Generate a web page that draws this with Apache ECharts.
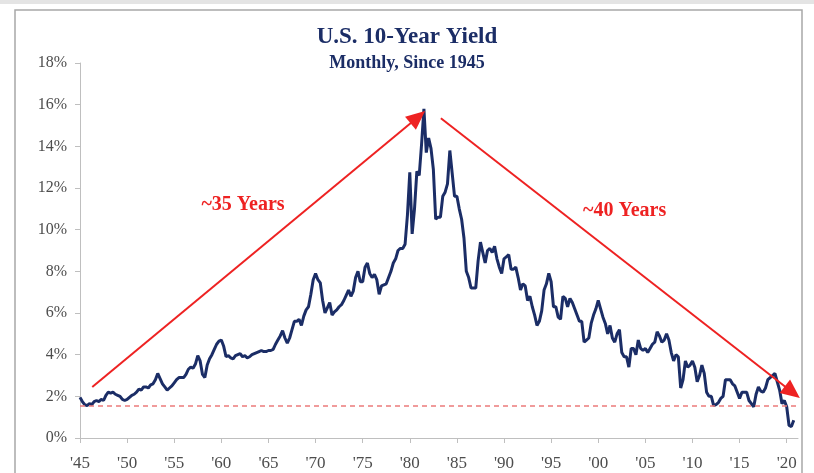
<!DOCTYPE html>
<html>
<head>
<meta charset="utf-8">
<style>
  html, body { margin: 0; padding: 0; background: #ffffff; }
  #chart { width: 814px; height: 473px; }
</style>
<script src="https://cdn.jsdelivr.net/npm/echarts@6/dist/echarts.min.js"></script>
</head>
<body>
<div id="chart"></div>
<script>
// U.S. 10-year Treasury yield (%), one value per quarter starting Q1 1945
const startYear = 1945;
const quarterlyYield = [
  1.95, 1.75, 1.60, 1.55,   // 1945
  1.65, 1.60, 1.75, 1.80,   // 1946
  1.75, 1.85, 1.80, 2.05,   // 1947
  2.20, 2.15, 2.20, 2.10,   // 1948
  2.05, 2.00, 1.85, 1.80,   // 1949
  1.85, 1.95, 2.05, 2.10,   // 1950
  2.20, 2.35, 2.30, 2.45,   // 1951
  2.45, 2.40, 2.55, 2.60,   // 1952
  2.80, 3.10, 2.85, 2.60,   // 1953
  2.45, 2.30, 2.40, 2.50,   // 1954
  2.65, 2.80, 2.90, 2.90,   // 1955
  2.90, 3.05, 3.30, 3.40,   // 1956
  3.35, 3.55, 3.95, 3.70,   // 1957
  3.05, 2.90, 3.50, 3.80,   // 1958
  4.00, 4.25, 4.50, 4.65,   // 1959
  4.70, 4.40, 3.90, 3.95,   // 1960
  3.85, 3.80, 3.95, 4.00,   // 1961
  4.05, 3.90, 3.95, 3.85,   // 1962
  3.90, 4.00, 4.05, 4.10,   // 1963
  4.15, 4.20, 4.15, 4.15,   // 1964
  4.20, 4.20, 4.25, 4.50,   // 1965
  4.70, 4.90, 5.15, 4.80,   // 1966
  4.55, 4.80, 5.20, 5.60,   // 1967
  5.60, 5.70, 5.40, 5.85,   // 1968
  6.15, 6.30, 6.90, 7.60,   // 1969
  7.90, 7.60, 7.45, 6.60,   // 1970
  6.00, 6.25, 6.50, 5.90,   // 1971
  6.05, 6.15, 6.30, 6.40,   // 1972
  6.60, 6.85, 7.10, 6.80,   // 1973
  7.05, 7.70, 8.00, 7.50,   // 1974
  7.50, 8.20, 8.40, 7.90,   // 1975
  7.70, 7.85, 7.60, 6.90,   // 1976
  7.30, 7.35, 7.40, 7.70,   // 1977
  8.00, 8.40, 8.60, 9.00,   // 1978
  9.10, 9.10, 9.30, 10.70,  // 1979
  12.75, 9.80, 11.00, 12.80,// 1980
  12.60, 14.10, 15.80, 13.70,// 1981
  14.40, 13.90, 12.90, 10.50,// 1982
  10.60, 10.60, 11.60, 11.80,// 1983
  12.20, 13.80, 12.70, 11.60,// 1984
  11.60, 11.00, 10.50, 9.60, // 1985
  8.00, 7.70, 7.20, 7.20,   // 1986
  7.20, 8.50, 9.40, 8.90,   // 1987
  8.40, 9.00, 9.10, 8.90,   // 1988
  9.20, 8.60, 8.20, 7.90,   // 1989
  8.60, 8.70, 8.80, 8.10,   // 1990
  8.10, 8.20, 7.70, 7.10,   // 1991
  7.40, 7.30, 6.60, 6.80,   // 1992
  6.30, 5.90, 5.40, 5.60,   // 1993
  6.10, 7.10, 7.40, 7.90,   // 1994
  7.50, 6.30, 6.30, 5.80,   // 1995
  5.70, 6.80, 6.70, 6.30,   // 1996
  6.70, 6.50, 6.20, 5.90,   // 1997
  5.60, 5.60, 4.60, 4.70,   // 1998
  4.80, 5.50, 5.90, 6.20,   // 1999
  6.60, 6.20, 5.80, 5.50,   // 2000
  5.00, 5.40, 4.80, 4.60,   // 2001
  5.00, 5.20, 4.10, 3.90,   // 2002
  3.90, 3.40, 4.30, 4.30,   // 2003
  4.00, 4.70, 4.30, 4.20,   // 2004
  4.30, 4.10, 4.30, 4.50,   // 2005
  4.60, 5.10, 4.90, 4.60,   // 2006
  4.70, 5.00, 4.70, 4.10,   // 2007
  3.70, 4.00, 3.90, 2.40,   // 2008
  2.80, 3.70, 3.40, 3.50,   // 2009
  3.70, 3.40, 2.70, 3.00,   // 2010
  3.50, 3.10, 2.20, 2.00,   // 2011
  2.00, 1.55, 1.60, 1.70,   // 2012
  1.90, 2.00, 2.80, 2.80,   // 2013
  2.80, 2.60, 2.50, 2.20,   // 2014
  1.90, 2.20, 2.20, 2.20,   // 2015
  1.80, 1.65, 1.50, 2.10,   // 2016
  2.45, 2.25, 2.20, 2.40,   // 2017
  2.80, 2.90, 3.00, 3.10,   // 2018
  2.70, 2.30, 1.65, 1.80,   // 2019
  1.50, 0.60, 0.55, 0.85    // 2020
];

// x-axis ticks every five years, labelled '45 ... '20
const tickYears = [1945, 1950, 1955, 1960, 1965, 1970, 1975, 1980, 1985, 1990, 1995, 2000, 2005, 2010, 2015, 2020];
const yTicks = [0, 2, 4, 6, 8, 10, 12, 14, 16, 18];

// Annotations: trend arrows (start/end in [year, %]), floor level and captions
const riseArrow = [[1946.3, 2.45], [1980.85, 15.4]];
const fallArrow = [[1983.3, 15.35], [2020.6, 2.2]];
const floorLevel = 1.55;
const riseCaption = { text: '~35 Years', at: [1962.3, 11.2] };
const fallCaption = { text: '~40 Years', at: [2002.8, 10.9] };

const seriesData = quarterlyYield.map((v, i) => [startYear + i / 4, v]);

const NAVY = '#1b2d66';
const RED = '#ee2222';
const AXIS_TEXT = '#4d4d4d';
const SERIF = '"Liberation Serif", "DejaVu Serif", serif';

const chart = echarts.init(document.getElementById('chart'), null, { renderer: 'canvas' });

chart.setOption({
  backgroundColor: '#ffffff',
  animation: false,
  title: {
    left: 'center',
    top: 21,
    text: 'U.S. 10-Year Yield',
    subtext: 'Monthly, Since 1945',
    itemGap: 5,
    textStyle: { fontFamily: SERIF, fontWeight: 'bold', fontSize: 23, color: NAVY },
    subtextStyle: { fontFamily: SERIF, fontWeight: 'bold', fontSize: 18, color: NAVY }
  },
  grid: { left: 80, right: 16, top: 63, bottom: 35, containLabel: false },
  xAxis: {
    type: 'value',
    min: 1945,
    max: 2021.2,
    interval: 5,
    splitLine: { show: false },
    axisLine: { lineStyle: { color: '#bfbfbf', width: 1 } },
    axisTick: { show: true, length: 5, lineStyle: { color: '#bfbfbf' }, customValues: tickYears },
    axisLabel: {
      customValues: tickYears,
      margin: 17,
      fontFamily: SERIF, fontSize: 17, color: AXIS_TEXT,
      formatter: v => "'" + String(v).slice(2)
    }
  },
  yAxis: {
    type: 'value',
    min: 0,
    max: 18,
    interval: 2,
    splitLine: { show: false },
    axisLine: { show: true, lineStyle: { color: '#bfbfbf', width: 1 } },
    axisTick: { show: true, length: 5, lineStyle: { color: '#bfbfbf' }, customValues: yTicks },
    axisLabel: {
      margin: 13,
      fontFamily: SERIF, fontSize: 16, color: AXIS_TEXT,
      formatter: '{value}%'
    }
  },
  series: [
    {
      type: 'line',
      name: '10-Year Yield',
      data: seriesData,
      showSymbol: false,
      smooth: false,
      lineStyle: { color: NAVY, width: 3 },
      z: 3,
      markLine: {
        silent: true,
        symbol: ['none', 'none'],
        label: { show: false },
        lineStyle: { color: '#ec7b7b', type: [5, 4], width: 1.5 },
        data: [{ yAxis: floorLevel }]
      }
    },
    {
      type: 'line',
      name: 'annotations',
      data: [],
      z: 4,
      markLine: {
        silent: true,
        symbol: ['none', 'triangle'],
        symbolSize: [17, 19],
        label: { show: false },
        lineStyle: { color: RED, type: 'solid', width: 2 },
        data: [
          [{ coord: riseArrow[0] }, { coord: riseArrow[1] }],
          [{ coord: fallArrow[0] }, { coord: fallArrow[1] }]
        ]
      },
      markPoint: {
        silent: true,
        symbol: 'circle',
        symbolSize: 1,
        itemStyle: { color: 'rgba(0,0,0,0)' },
        label: {
          show: true,
          position: 'inside',
          fontFamily: SERIF, fontWeight: 'bold', fontSize: 20, color: RED,
          formatter: p => p.name
        },
        data: [
          { name: riseCaption.text, coord: riseCaption.at },
          { name: fallCaption.text, coord: fallCaption.at }
        ]
      }
    }
  ],
  graphic: [
    { type: 'rect', silent: true, z: -1, shape: { x: 0, y: 0, width: 814, height: 4 }, style: { fill: '#e4e4e4' } },
    { type: 'rect', silent: true, z: 100, shape: { x: 15, y: 10, width: 787, height: 480 }, style: { fill: 'none', stroke: '#a8a8a8', lineWidth: 1.5 } }
  ]
});
</script>
</body>
</html>
